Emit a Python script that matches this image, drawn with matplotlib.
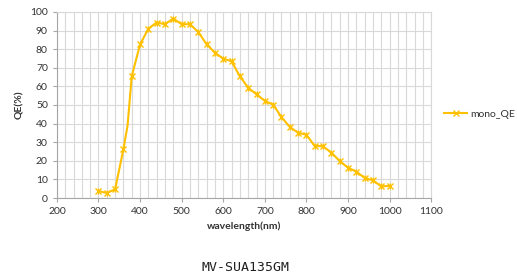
import numpy as np
import matplotlib.pyplot as plt
from matplotlib.ticker import MultipleLocator

# QE curve
wavelength = [300, 320, 340, 360, 370, 380, 400, 420, 440, 460, 480, 500, 520, 540,
              560, 580, 600, 620, 640, 660, 680, 700, 720, 740, 760, 780, 800, 820,
              840, 860, 880, 900, 920, 940, 960, 980, 1000]
qe = [3.8, 2.7, 4.7, 26.2, 39.0, 65.4, 82.5, 91.0, 94.3, 93.4, 96.4, 93.4, 93.4, 89.2,
      82.6, 78.1, 74.9, 73.5, 65.4, 59.3, 55.7, 52.2, 50.2, 43.5, 38.2, 35.1, 34.0, 28.0,
      27.8, 24.4, 19.9, 16.3, 14.2, 10.8, 9.5, 6.3, 6.5]
no_marker = [370]
series_name = "mono_QE"
title = "MV-SUA135GM"

color = "#FFC000"
grid_color = "#D9D9D9"
text_color = "#333333"

plt.rcParams['font.family'] = ['Lato', 'DejaVu Sans']

fig = plt.figure(figsize=(5.17, 2.77), dpi=100)
ax = fig.add_axes([0.110, 0.285, 0.724, 0.672])

marks = [i for i, w in enumerate(wavelength) if w not in no_marker]
line, = ax.plot(wavelength, qe, color=color, lw=1.5, marker='x', ms=4.5, mew=1.0,
                markevery=marks, label=series_name, zorder=3)
ax.plot(np.array(wavelength)[marks], np.array(qe)[marks], ls='none', marker='|',
        ms=4.5, mew=1.0, color=color, zorder=3)

ax.set_xlim(200, 1100)
ax.set_ylim(0, 100)
ax.xaxis.set_major_locator(MultipleLocator(100))
ax.xaxis.set_minor_locator(MultipleLocator(20))
ax.yaxis.set_major_locator(MultipleLocator(10))
ax.grid(True, which='both', color=grid_color, lw=0.8, zorder=0)
ax.set_axisbelow(True)

for s in ax.spines.values():
    s.set_color(grid_color)
    s.set_linewidth(0.8)
ax.spines['bottom'].set_color('#A6A6A6')
ax.spines['left'].set_color('#A6A6A6')

ax.tick_params(axis='both', which='major', colors='#A6A6A6', labelcolor=text_color,
               labelsize=7.5, length=3, width=0.8)
ax.tick_params(axis='x', which='minor', length=0)

ax.set_xlabel("wavelength(nm)", fontsize=7.5, fontweight='bold', color=text_color, labelpad=4)
ax.set_ylabel("QE(%)", fontsize=7.5, fontweight='bold', color=text_color, labelpad=4)

ax.legend(handles=[line], loc='center left', bbox_to_anchor=(1.01, 0.45), frameon=False,
          fontsize=7.5, handlelength=2.2, handletextpad=0.3, labelcolor=text_color)

fig.text(0.474, 0.035, title, ha='center', va='center', fontsize=9.5,
         family='DejaVu Sans Mono', color='#202020')

fig.savefig("out.png", dpi=100)
